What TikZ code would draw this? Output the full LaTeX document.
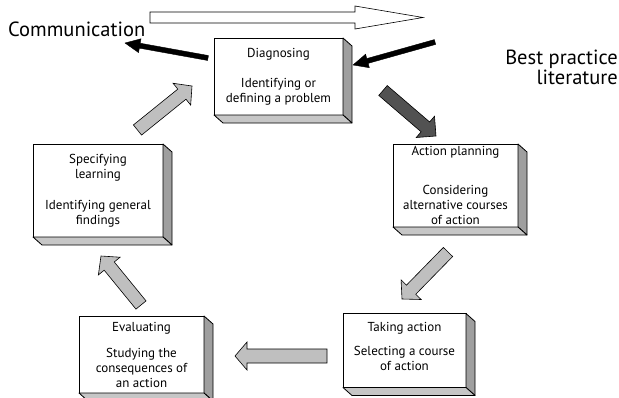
\documentclass[tikz,border=0pt]{standalone}
\usepackage{fontspec}
\setmainfont{PT Sans}
\usetikzlibrary{calc}

\tikzset{
  stage/.style={draw, line width=0.8pt, fill=white, align=center, inner sep=0pt, outer sep=0pt,
    font=\fontsize{13}{15}\selectfont},
  sideface/.style={draw, line width=0.8pt, fill=gray!75, line join=round},
  baseface/.style={draw, line width=0.8pt, fill=gray!45, line join=round},
  litearrow/.style={draw, line width=0.6pt, fill=gray!50},
  darkarrow/.style={draw, line width=0.6pt, fill=black!68},
  blackarrow/.style={draw, line width=0.4pt, fill=black},
  hollowarrow/.style={draw, line width=0.6pt, fill=white},
  outside/.style={font=\fontsize{20.5}{20}\selectfont}
}

% block arrow: tail, tip, half shaft, half head, head length
\newcommand{\bigarrow}[6][litearrow]{%
  \coordinate (ba-h) at ($(#3)!#6!(#2)$);
  \draw[#1] ($(#2)!#4!90:(#3)$) -- ($(ba-h)!#4!90:(#3)$) -- ($(ba-h)!#5!90:(#3)$) -- (#3)
    -- ($(ba-h)!#5!-90:(#3)$) -- ($(ba-h)!#4!-90:(#3)$) -- ($(#2)!#4!-90:(#3)$) -- cycle;
}

\begin{document}
\begin{tikzpicture}[x=1pt, y=-1pt]
  \useasboundingbox (0,0) rectangle (619,397);

  % the five stages
  \node[stage, minimum width=129pt, minimum height=77pt] (diag) at (278.5,76.5)
    {Diagnosing\\[15pt]Identifying or\\defining a problem};
  \node[stage, minimum width=125pt, minimum height=83pt] (plan) at (455.5,185.5)
    {Action planning\\[24pt]Considering\\alternative courses\\of action};
  \node[stage, minimum width=123pt, minimum height=74pt] (act) at (404.5,350.5)
    {Taking action\\[9pt]Selecting a course\\of action\\[-6pt]\mbox{}};
  \node[stage, minimum width=125pt, minimum height=77pt] (eval) at (141.5,354.5)
    {Evaluating\\[11pt]Studying the\\consequences of\\an action};
  \node[stage, minimum width=130pt, minimum height=93pt] (learn) at (98,190.5)
    {Specifying\\learning\\[16pt]Identifying general\\findings};

  \foreach \n in {diag,plan,act,eval,learn} {
    \draw[sideface] (\n.north east) -- ++(9,8) -- ($(\n.south east)+(9,8)$) -- (\n.south east) -- cycle;
    \draw[baseface] (\n.south west) -- ++(9,8) -- ($(\n.south east)+(9,8)$) -- (\n.south east) -- cycle;
  }

  % outside labels
  \node[outside, anchor=base west, inner sep=0pt] (comm) at (8,36) {Communication};
  \node[outside, anchor=north east, align=right, inner sep=0pt] (best) at (618,50) {Best practice\\literature};

  % arrow ends
  \coordinate (top-t) at (150,17.5);   \coordinate (top-h) at (423,17.5);
  \coordinate (comm-t) at (208,58);    \coordinate (comm-h) at (125,43);
  \coordinate (best-t) at (435,42);    \coordinate (best-h) at (353,65);
  \coordinate (dp-t) at (383,90.5);    \coordinate (dp-h) at (436,136);
  \coordinate (pa-t) at (448,252);     \coordinate (pa-h) at (402,299);
  \coordinate (ae-t) at (327,356);     \coordinate (ae-h) at (235,356);
  \coordinate (el-t) at (141,305);     \coordinate (el-h) at (101,256);
  \coordinate (ld-t) at (137.5,130);   \coordinate (ld-h) at (192,86);

  \bigarrow[hollowarrow]{top-t}{top-h}{5.5pt}{11.5pt}{68pt}
  \bigarrow[blackarrow]{comm-t}{comm-h}{2.5pt}{7pt}{15pt}
  \bigarrow[blackarrow]{best-t}{best-h}{2.5pt}{7pt}{15pt}
  \bigarrow[darkarrow]{dp-t}{dp-h}{6.5pt}{14pt}{14pt}
  \bigarrow{pa-t}{pa-h}{6.5pt}{14pt}{13pt}
  \bigarrow{ae-t}{ae-h}{7pt}{14pt}{12pt}
  \bigarrow{el-t}{el-h}{6.5pt}{14pt}{13pt}
  \bigarrow{ld-t}{ld-h}{6.5pt}{14pt}{13pt}
\end{tikzpicture}
\end{document}
